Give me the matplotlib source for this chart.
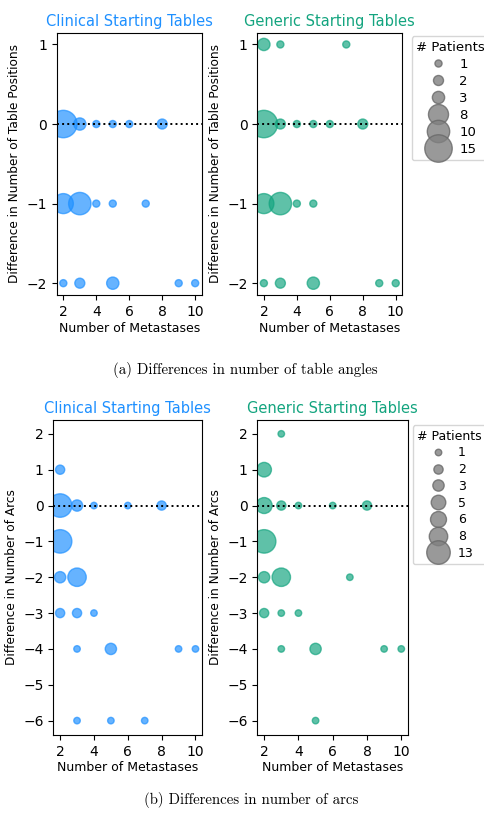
import matplotlib
matplotlib.use("Agg")
import matplotlib.pyplot as plt
from matplotlib.lines import Line2D
import numpy as np

BLUE = '#1E90FF'
GREEN = '#13a47f'
ALPHA = 0.68

# (a) table positions
clin_a_x = [2, 3, 4, 5, 6, 8, 2, 3, 4, 5, 7, 2, 3, 5, 9, 10]
clin_a_y = [0, 0, 0, 0, 0, 0, -1, -1, -1, -1, -1, -2, -2, -2, -2, -2]
clin_a_n = [15, 3, 1, 1, 1, 2, 8, 10, 1, 1, 1, 1, 2, 3, 1, 1]

gen_a_x = [2, 3, 7, 2, 3, 4, 5, 6, 8, 2, 3, 4, 5, 2, 3, 5, 9, 10]
gen_a_y = [1, 1, 1, 0, 0, 0, 0, 0, 0, -1, -1, -1, -1, -2, -2, -2, -2, -2]
gen_a_n = [3, 1, 1, 15, 2, 1, 1, 1, 2, 8, 10, 1, 1, 1, 2, 3, 1, 1]

# (b) arcs
clin_b_x = [2, 2, 3, 4, 6, 8, 2, 2, 3, 2, 3, 4, 3, 5, 9, 10, 3, 5, 7]
clin_b_y = [1, 0, 0, 0, 0, 0, -1, -2, -2, -3, -3, -3, -4, -4, -4, -4, -6, -6, -6]
clin_b_n = [2, 13, 3, 1, 1, 2, 13, 3, 8, 2, 2, 1, 1, 3, 1, 1, 1, 1, 1]

gen_b_x = [3, 2, 2, 3, 4, 6, 8, 2, 2, 3, 7, 2, 3, 4, 3, 5, 9, 10, 5]
gen_b_y = [2, 1, 0, 0, 0, 0, 0, -1, -2, -2, -2, -3, -3, -3, -4, -4, -4, -4, -6]
gen_b_n = [1, 5, 6, 2, 1, 1, 2, 13, 3, 8, 1, 2, 1, 1, 1, 3, 1, 1, 1]

TICK_FS = 10
LAB_FS = 9

fig = plt.figure(figsize=(4.85, 8.13), dpi=100)

def panel(rect, x, y, n, color, title, ylabel, scale):
    ax = fig.add_axes(rect)
    ax.scatter(x, y, s=np.array(n) * scale, color=color, alpha=ALPHA, zorder=2)
    ax.axhline(0, color='black', linestyle=':', linewidth=1.4, zorder=3)
    ax.set_title(title, color=color, fontsize=10.5, pad=5)
    ax.set_ylabel(ylabel, fontsize=8.7)
    ax.set_xlabel('Number of Metastases', fontsize=LAB_FS, labelpad=2)
    ax.set_xticks([2, 4, 6, 8, 10])
    ax.tick_params(labelsize=TICK_FS)
    return ax

def size_legend(ax, counts, scale, anchor, fs=9.5):
    handles = [Line2D([], [], marker='o', linestyle='', color='gray', alpha=0.8,
                      markeredgecolor='dimgray', markersize=np.sqrt(c * scale))
               for c in counts]
    ax.legend(handles, [str(c) for c in counts], title='# Patients', loc='upper left',
              bbox_to_anchor=anchor, borderaxespad=0, fontsize=fs, title_fontsize=fs,
              labelspacing=0.3, handletextpad=0.6, borderpad=0.35)

# top pair
sa = 26
ax1 = panel([0.117, 0.637, 0.299, 0.323], clin_a_x, clin_a_y, clin_a_n, BLUE,
            'Clinical Starting Tables', 'Difference in Number of Table Positions', sa)
ax2 = panel([0.5305, 0.637, 0.299, 0.323], gen_a_x, gen_a_y, gen_a_n, GREEN,
            'Generic Starting Tables', 'Difference in Number of Table Positions', sa)
for ax in (ax1, ax2):
    ax.set_ylim(-2.15, 1.15)
    ax.set_xlim(1.6, 10.4)
    ax.set_yticks([-2, -1, 0, 1])
top_counts = sorted(set(clin_a_n) | set(gen_a_n))
size_legend(ax2, top_counts, sa, (1.065, 0.985))

# bottom pair
sb = 22
ax3 = panel([0.110, 0.096, 0.307, 0.388], clin_b_x, clin_b_y, clin_b_n, BLUE,
            'Clinical Starting Tables', 'Difference in Number of Arcs', sb)
ax4 = panel([0.5305, 0.096, 0.311, 0.388], gen_b_x, gen_b_y, gen_b_n, GREEN,
            'Generic Starting Tables', 'Difference in Number of Arcs', sb)
for ax in (ax3, ax4):
    ax.set_ylim(-6.4, 2.4)
    ax.set_xlim(1.6, 10.4)
    ax.set_yticks(range(-6, 3))
bot_counts = sorted(set(clin_b_n) | set(gen_b_n))
size_legend(ax4, bot_counts, sb, (1.03, 0.982), fs=9)

fig.text(0.505, 1 - 370 / 813, '(a) Differences in number of table angles',
         ha='center', va='center', family='cmr10', fontsize=10.7)
fig.text(0.518, 1 - 800 / 813, '(b) Differences in number of arcs',
         ha='center', va='center', family='cmr10', fontsize=10.7)

fig.savefig('out.png', dpi=100)
